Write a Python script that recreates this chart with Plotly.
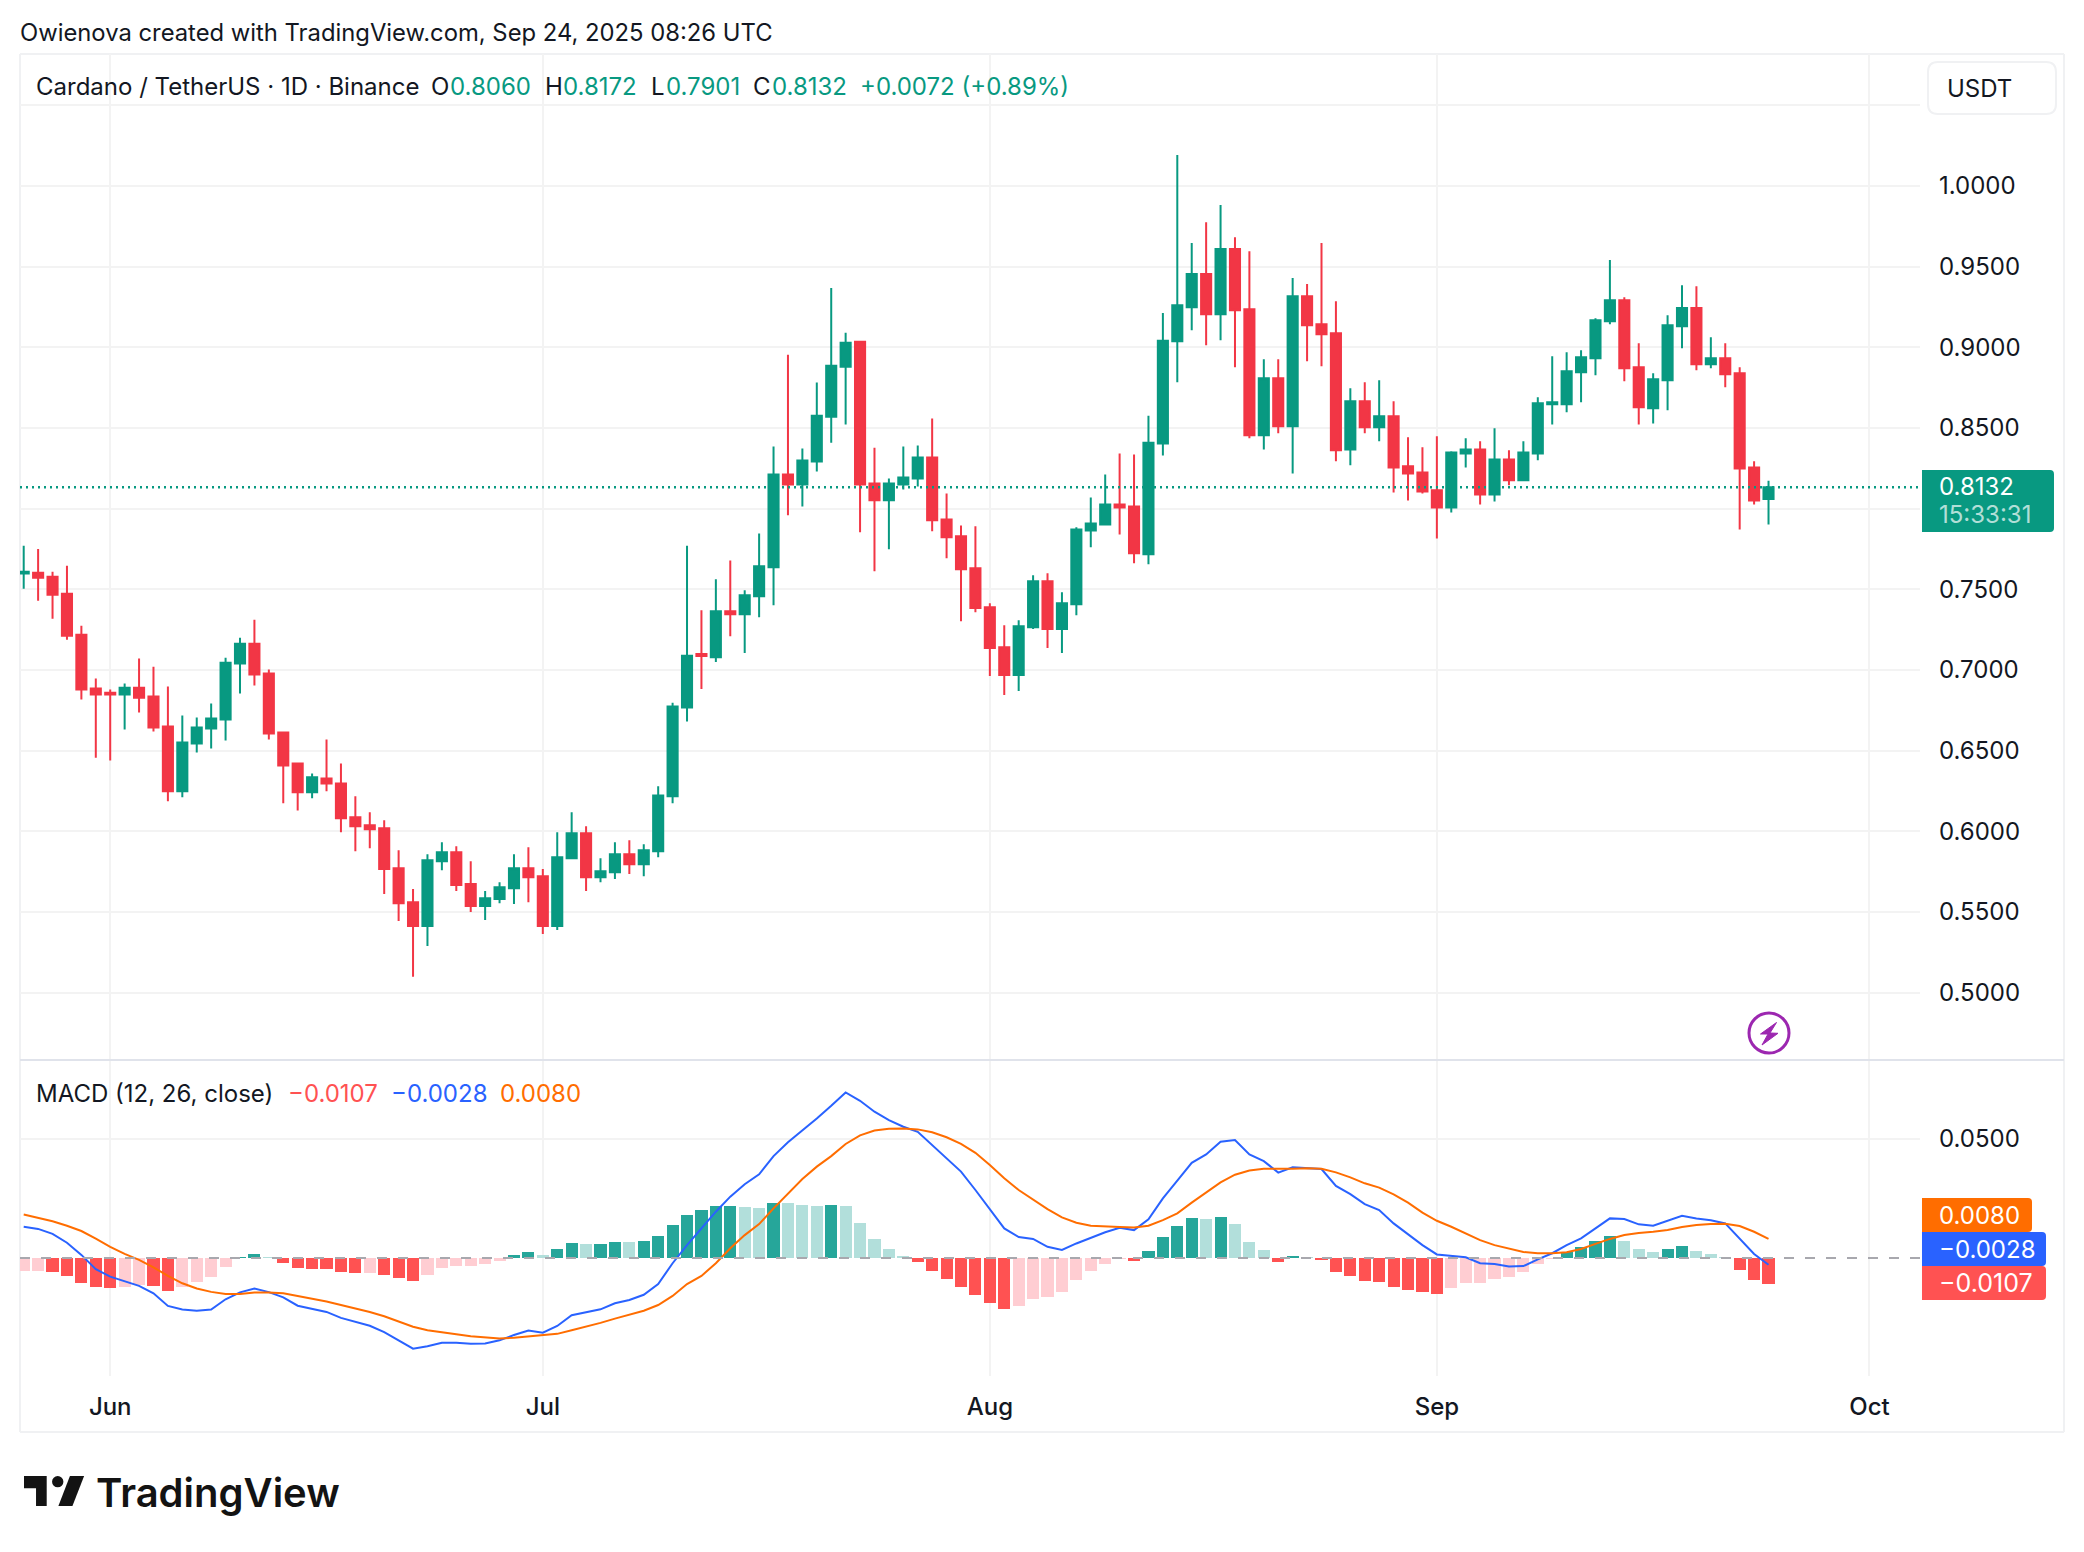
import pandas as pd
import plotly.graph_objects as go

FIRST_DAY = "2025-05-26"
opens = [.7598,.7602,.7577,.7472,.7218,.6884,.6859,.6847,.6890,.6835,.6649,.6247,.6544,.6637,.6692,.7039,.7162,.6977,.6612,.6420,.6241,.6327,.6296,.6086,.6037,.6018,.5771,.5560,.5412,.5814,.5870,.5672,.5536,.5579,.5647,.5771,.5721,.5412,.5833,.5987,.5715,.5746,.5857,.5795,.5876,.6216,.6767,
 .7098,.7079,.7364,.7345,.7457,.7636,.8211,.8150,.8292,.8570,.8879,.9034,.8156,.8051,.8150,.8187,.8317,.7933,.7828,.7630,.7389,.7141,.6968,.7265,.7550,.7253,.7407,.7865,.7902,.8026,.8013,.7717,.8403,
 .9038,.9249,.9454,.9205,.9609,.9236,.8454,.8808,.8510,.9317,.9143,.9087,.8367,.8665,.8504,.8572,.8262,.8224,.8113,.8007,.8342,.8367,.8088,.8305,.8175,.8342,.8647,.8647,.8845,.8932,.9162,.9292,.8876,.8622,.8796,.9131,.9243,.8895,.8932,.8839,.8255,.8060]
highs = [.7769,.7750,.7608,.7645,.7274,.6946,.6878,.6915,.7070,.7020,.6897,.6717,.6705,.6791,.7076,.7200,.7311,.7002,.6612,.6426,.6358,.6569,.6420,.6216,.6117,.6068,.5882,.5641,.5857,.5932,.5907,.5814,.5629,.5684,.5857,.5901,.5765,.5993,.6117,.6030,.5833,.5932,.5944,.5919,.6278,.6797,.7769,
 .7370,.7562,.7679,.7494,.7846,.8385,.8954,.8372,.8781,.9368,.9090,.9034,.8378,.8187,.8385,.8391,.8558,.8094,.7896,.7890,.7413,.7277,.7308,.7587,.7599,.7482,.7884,.8069,.8211,.8341,.8335,.8576,.9213,
 1.0192,.9646,.9776,.9882,.9683,.9596,.8926,.8926,.9429,.9392,.9646,.9286,.8746,.8783,.8796,.8665,.8442,.8380,.8448,.8355,.8436,.8417,.8498,.8361,.8417,.8690,.8945,.8969,.8982,.9180,.9541,.9311,.9025,.8839,.9199,.9385,.9379,.9063,.9025,.8876,.8293,.8172]
lows = [.7503,.7428,.7317,.7187,.6816,.6456,.6438,.6631,.6736,.6618,.6185,.6210,.6488,.6513,.6562,.6853,.6903,.6569,.6173,.6129,.6204,.6247,.5993,.5876,.5894,.5610,.5443,.5097,.5288,.5758,.5629,.5499,.5449,.5554,.5548,.5560,.5362,.5387,.5826,.5629,.5684,.5703,.5734,.5721,.5839,.6173,.6680,
 .6882,.7049,.7209,.7104,.7327,.7401,.7958,.8013,.8230,.8409,.8521,.7853,.7611,.7748,.8119,.8137,.7859,.7692,.7302,.7358,.6962,.6844,.6869,.7253,.7135,.7104,.7339,.7760,.7896,.7840,.7661,.7655,.8329,
 .8783,.9106,.9013,.9044,.8876,.8436,.8367,.8467,.8218,.8914,.8883,.8293,.8268,.8467,.8417,.8100,.8050,.8094,.7815,.7976,.8255,.8026,.8044,.8144,.8175,.8299,.8522,.8597,.8659,.8827,.9143,.8789,.8522,.8528,.8609,.8994,.8858,.8870,.8752,.7871,.8026,.7901]
closes = [.7608,.7571,.7466,.7212,.6878,.6847,.6847,.6890,.6828,.6643,.6247,.6550,.6643,.6699,.7045,.7162,.6971,.6606,.6408,.6241,.6334,.6296,.6080,.6030,.6012,.5765,.5554,.5412,.5820,.5870,.5666,.5536,.5585,.5653,.5771,.5715,.5412,.5839,.5987,.5715,.5752,.5857,.5795,.5882,.6222,.6773,.7088,
 .7086,.7364,.7345,.7463,.7642,.8211,.8150,.8298,.8576,.8886,.9028,.8150,.8051,.8156,.8193,.8317,.7927,.7822,.7624,.7383,.7135,.6968,.7271,.7550,.7253,.7413,.7871,.7908,.8026,.8007,.7723,.8409,.9040,
 .9261,.9454,.9205,.9609,.9230,.8454,.8808,.8510,.9317,.9137,.9081,.8361,.8665,.8504,.8572,.8255,.8218,.8106,.8007,.8348,.8367,.8088,.8305,.8175,.8348,.8653,.8659,.8851,.8938,.9168,.9292,.8870,.8628,.8802,.9137,.9243,.8895,.8932,.8833,.8249,.8050,.8132]
macd_hist = [-.0054,-.0054,-.0059,-.0075,-.0105,-.0122,-.0126,-.0122,-.0113,-.0117,-.0138,-.0122,-.0101,-.0080,-.0038,.0004,.0017,.0004,-.0021,-.0042,-.0046,-.0046,-.0059,-.0063,-.0063,-.0071,-.0084,-.0096,-.0071,-.0042,-.0034,-.0034,-.0025,-.0013,.0013,.0025,.0013,.0038,.0063,.0059,.0059,.0067,.0067,.0071,.0092,.0138,.0180,
 .0201,.0218,.0218,.0214,.0209,.0230,.0230,.0222,.0218,.0222,.0218,.0147,.0080,.0038,.0008,-.0017,-.0054,-.0088,-.0122,-.0155,-.0189,-.0214,-.0201,-.0172,-.0163,-.0142,-.0092,-.0054,-.0025,-.0004,-.0013,.0029,.0088,
 .0134,.0168,.0163,.0172,.0142,.0067,.0034,-.0017,.0008,.0004,-.0008,-.0059,-.0075,-.0096,-.0101,-.0122,-.0134,-.0142,-.0151,-.0126,-.0105,-.0105,-.0088,-.0080,-.0059,-.0025,-.0004,.0025,.0046,.0071,.0092,.0071,.0038,.0025,.0038,.0050,.0029,.0017,.0004,-.0050,-.0092,-.0107]
hist_strong = [0,0,1,1,1,1,1,0,0,1,1,0,0,0,0,1,1,0,1,1,1,1,1,1,0,1,1,1,0,0,0,0,0,0,1,1,0,1,1,0,1,1,0,1,1,1,1,
 1,1,1,0,0,1,0,0,0,1,0,0,0,0,0,1,1,1,1,1,1,1,0,0,0,0,0,0,0,0,1,1,1,
 1,1,0,1,0,0,0,1,1,0,1,1,1,1,1,1,1,1,1,0,0,0,0,0,0,0,0,1,1,1,1,0,0,0,1,1,0,0,0,1,1,1]
macd_line = [.0131,.0122,.0101,.0064,.0013,-.0047,-.0078,-.0099,-.0117,-.0148,-.0201,-.0216,-.0221,-.0216,-.0173,-.0144,-.0128,-.0143,-.0165,-.0200,-.0214,-.0226,-.0251,-.0269,-.0284,-.0311,-.0346,-.0380,-.0370,-.0355,-.0355,-.0359,-.0358,-.0345,-.0323,-.0304,-.0313,-.0285,-.0240,-.0229,-.0215,-.0190,-.0176,-.0154,-.0109,-.0022,.0054,
 .0124,.0194,.0257,.0309,.0351,.0427,.0485,.0534,.0585,.0638,.0694,.0659,.0613,.0578,.0550,.0529,.0473,.0418,.0362,.0285,.0204,.0124,.0088,.0080,.0047,.0034,.0061,.0085,.0108,.0127,.0117,.0162,.0250,
 .0324,.0399,.0434,.0487,.0494,.0434,.0406,.0358,.0380,.0378,.0373,.0302,.0268,.0226,.0201,.0145,.0101,.0054,.0015,.0008,.0003,-.0022,-.0025,-.0036,-.0034,-.0006,.0020,.0054,.0082,.0124,.0166,.0163,.0141,.0135,.0156,.0177,.0166,.0158,.0145,.0082,.0017,-.0028]
signal_line = [.0182,.0169,.0154,.0135,.0113,.0081,.0047,.0017,-.0008,-.0039,-.0075,-.0106,-.0128,-.0142,-.0151,-.0151,-.0145,-.0145,-.0148,-.0159,-.0170,-.0182,-.0197,-.0211,-.0226,-.0244,-.0267,-.0288,-.0303,-.0313,-.0320,-.0328,-.0334,-.0337,-.0334,-.0328,-.0325,-.0318,-.0303,-.0288,-.0272,-.0254,-.0239,-.0221,-.0197,-.0159,-.0109,
 -.0075,-.0022,.0041,.0096,.0142,.0208,.0271,.0331,.0383,.0427,.0478,.0514,.0534,.0542,.0543,.0539,.0527,.0506,.0478,.0441,.0390,.0334,.0285,.0246,.0205,.0170,.0148,.0135,.0131,.0130,.0128,.0135,.0159,
 .0187,.0232,.0274,.0317,.0349,.0367,.0374,.0373,.0374,.0376,.0374,.0359,.0338,.0313,.0295,.0267,.0232,.0190,.0156,.0131,.0103,.0075,.0054,.0038,.0025,.0020,.0020,.0024,.0038,.0059,.0080,.0096,.0105,.0110,.0117,.0130,.0138,.0142,.0144,.0134,.0110,.0080]
price_ticks = [0.50,0.55,0.60,0.65,0.70,0.75,0.80,0.85,0.90,0.95,1.00,1.05]
price_tick_labels = ["0.5000","0.5500","0.6000","0.6500","0.7000","0.7500","","0.8500","0.9000","0.9500","1.0000",""]
month_ticks = ["2025-06-01","2025-07-01","2025-08-01","2025-09-01","2025-10-01"]
month_labels = ["Jun","Jul","Aug","Sep","Oct"]

W, H = 2084, 1552
FONT = "Inter"
INK = "#131722"
GREEN = "#089981"
RED = "#F23645"
GRID = "#F3F3F3"
BORDER = "#F0F1F3"
PL, PR = 20, 1920
DAY_PX = 14.42
FIRST_PX = 23.7

def fx(x): return x / W
def fy(y): return 1 - y / H

days = pd.date_range(FIRST_DAY, periods=len(closes), freq="D")
def px2date(x):
    return (pd.Timestamp(FIRST_DAY) + pd.Timedelta(days=(x - FIRST_PX) / DAY_PX)).isoformat()
xrange = [px2date(PL), px2date(PR)]

PRICE_TOP, PRICE_BOT = 54, 1060
MACD_TOP, MACD_BOT = 1061, 1376
PRICE_PER_PX = 0.05 / 80.65
price_range = [1.0 - (PRICE_BOT - 186) * PRICE_PER_PX, 1.0 + (186 - PRICE_TOP) * PRICE_PER_PX]
MACD_PER_PX = 0.05 / 119.3
macd_range = [-(MACD_BOT - 1258) * MACD_PER_PX, (1258 - MACD_TOP) * MACD_PER_PX]

fig = go.Figure()
fig.add_trace(go.Candlestick(
    x=days, open=opens, high=highs, low=lows, close=closes, xaxis="x", yaxis="y",
    increasing=dict(line=dict(color=GREEN, width=2), fillcolor=GREEN),
    decreasing=dict(line=dict(color=RED, width=2), fillcolor=RED),
    whiskerwidth=0, showlegend=False))

def bar_color(v, s):
    if v >= 0:
        return "#26A69A" if s else "#B2DFDB"
    return "#FF5252" if s else "#FFCDD2"

fig.add_trace(go.Bar(x=days, y=macd_hist, xaxis="x2", yaxis="y2", width=0.84 * 86400000,
                     marker=dict(color=[bar_color(v, s) for v, s in zip(macd_hist, hist_strong)], line_width=0),
                     showlegend=False))
fig.add_trace(go.Scatter(x=days, y=macd_line, mode="lines", xaxis="x2", yaxis="y2",
                         line=dict(color="#2962FF", width=2), showlegend=False))
fig.add_trace(go.Scatter(x=days, y=signal_line, mode="lines", xaxis="x2", yaxis="y2",
                         line=dict(color="#FF6D00", width=2), showlegend=False))

shapes = []
# frame
for (x0, y0, x1, y1) in [(20, 54, 2064, 54), (20, 1432, 2064, 1432), (20, 54, 20, 1432), (2064, 54, 2064, 1432)]:
    shapes.append(dict(type="line", xref="paper", yref="paper", x0=fx(x0), y0=fy(y0), x1=fx(x1), y1=fy(y1),
                       line=dict(color=BORDER, width=2), layer="below"))
shapes.append(dict(type="line", xref="paper", yref="paper", x0=fx(20), y0=fy(1060), x1=fx(2064), y1=fy(1060),
                   line=dict(color="#E0E3EB", width=2)))
# last price dotted line
shapes.append(dict(type="line", xref="x", yref="y", x0=xrange[0], x1=xrange[1], y0=closes[-1], y1=closes[-1],
                   line=dict(color=GREEN, width=2.5, dash="2px,4px"), layer="above"))
# zero line of the MACD pane
shapes.append(dict(type="line", xref="x2", yref="y2", x0=xrange[0], x1=xrange[1], y0=0, y1=0,
                   line=dict(color="#A8A8AE", width=2, dash="10px,11px"), layer="above"))

def rounded(x0, y0, x1, y1, r=4, left=False):
    p = lambda x, y: f"{fx(x):.5f},{fy(y):.5f}"
    if left:
        return (f"M{p(x0+r,y0)} L{p(x1-r,y0)} Q{p(x1,y0)} {p(x1,y0+r)} L{p(x1,y1-r)} Q{p(x1,y1)} {p(x1-r,y1)} "
                f"L{p(x0+r,y1)} Q{p(x0,y1)} {p(x0,y1-r)} L{p(x0,y0+r)} Q{p(x0,y0)} {p(x0+r,y0)} Z")
    return (f"M{p(x0,y0)} L{p(x1-r,y0)} Q{p(x1,y0)} {p(x1,y0+r)} L{p(x1,y1-r)} Q{p(x1,y1)} {p(x1-r,y1)} L{p(x0,y1)} Z")

def tag(x0, y0, x1, y1, color):
    shapes.append(dict(type="path", xref="paper", yref="paper", path=rounded(x0, y0, x1, y1),
                       fillcolor=color, line_width=0, layer="above"))

tag(1922, 470, 2054, 532, GREEN)
tag(1922, 1198, 2032, 1232, "#FF6D00")
tag(1922, 1232, 2046, 1266, "#2962FF")
tag(1922, 1266, 2046, 1300, "#FF5252")

# USDT box
shapes.append(dict(type="path", xref="paper", yref="paper", path=rounded(1928, 62, 2056, 114, r=10, left=True),
                   fillcolor="white", line=dict(color="#F0F1F3", width=2)))

# lightning badge
shapes.append(dict(type="circle", xref="paper", yref="paper", x0=fx(1749), x1=fx(1789), y0=fy(1013), y1=fy(1053),
                   fillcolor="white", line=dict(color="#9C27B0", width=3)))
bolt = [(1776.5, 1022.5), (1760.5, 1034), (1768, 1034), (1762, 1045), (1778, 1033.3), (1770, 1033)]
shapes.append(dict(type="path", xref="paper", yref="paper",
                   path="M" + " L".join(f"{fx(a):.5f},{fy(b):.5f}" for a, b in bolt) + " Z",
                   fillcolor="#9C27B0", line=dict(color="#9C27B0", width=1)))

# logo
LX, LY, LS = 24, 1476, 1.67
def lp(pts):
    return "M" + " L".join(f"{fx(LX + a * LS):.5f},{fy(LY + b * LS):.5f}" for a, b in pts) + " Z"
shapes.append(dict(type="path", xref="paper", yref="paper", fillcolor="#131313", line_width=0,
                   path=lp([(0, 0), (13.6, 0), (13.6, 18), (7.2, 18), (7.2, 7.4), (0, 7.4)])))
shapes.append(dict(type="path", xref="paper", yref="paper", fillcolor="#131313", line_width=0,
                   path=lp([(27.5, 0), (36, 0), (29, 18), (20.6, 18)])))
shapes.append(dict(type="circle", xref="paper", yref="paper", fillcolor="#131313", line_width=0,
                   x0=fx(LX + 16.8 * LS), x1=fx(LX + 23.6 * LS), y0=fy(LY + 0 * LS), y1=fy(LY + 6.8 * LS)))

anns = []
def txt(x, y, s, color=INK, size=24, weight=400, anchor="left"):
    anns.append(dict(xref="paper", yref="paper", x=fx(x), y=fy(y), text=s, showarrow=False, xanchor=anchor,
                     yanchor="middle", borderpad=0, font=dict(family=FONT, size=size, color=color, weight=weight)))

txt(19, 32, "Owienova created with TradingView.com, Sep 24, 2025 08:26 UTC", size=23.8)
txt(35, 86, "Cardano / TetherUS · 1D · Binance", size=24)
for x, s, c in [(430, "O", INK), (449, "0.8060", GREEN), (544, "H", INK), (562, "0.8172", GREEN),
                (650, "L", INK), (665, "0.7901", GREEN), (752, "C", INK), (771, "0.8132", GREEN),
                (859, "+0.0072 (+0.89%)", GREEN)]:
    txt(x, 86, s, c, size=24)
txt(35, 1093, "MACD (12, 26, close)", size=24)
txt(287, 1093, "−0.0107", "#FF5252", size=24)
txt(390, 1093, "−0.0028", "#2962FF", size=24)
txt(499, 1093, "0.0080", "#FF6D00", size=24)
txt(1938, 486, "0.8132", "white", size=24)
txt(1938, 515, "15:33:31", "rgba(255,255,255,0.7)", size=24)
txt(1938, 1215, "0.0080", "white", size=24)
txt(1938, 1249, "−0.0028", "white", size=24)
txt(1938, 1283, "−0.0107", "white", size=25)
txt(1946, 88, "USDT", size=24)
txt(95, 1492, "TradingView", "#131313", size=40, weight=600)

fig.update_layout(
    width=W, height=H, margin=dict(l=0, r=0, t=0, b=0), paper_bgcolor="white", plot_bgcolor="white",
    font=dict(family=FONT, color=INK, size=24), bargap=0, boxgroupgap=0, showlegend=False, shapes=shapes, annotations=anns,
    hovermode=False,
    xaxis=dict(domain=[fx(PL), fx(PR)], anchor="y", range=xrange, type="date", rangeslider=dict(visible=False),
               tickvals=month_ticks, ticktext=[""] * 5, showgrid=True, gridcolor=GRID, gridwidth=2, ticks="", showline=False, zeroline=False),
    yaxis=dict(domain=[fy(PRICE_BOT), fy(PRICE_TOP)], anchor="x", side="right", range=price_range,
               tickvals=price_ticks, ticktext=price_tick_labels,
               showgrid=True, gridcolor=GRID, gridwidth=2, ticks="", showline=False, zeroline=False,
               tickfont=dict(family=FONT, size=24, color=INK), ticklabelstandoff=18),
    xaxis2=dict(domain=[fx(PL), fx(PR)], anchor="y2", range=xrange, type="date",
                tickvals=month_ticks, ticktext=month_labels, showgrid=True, gridcolor=GRID, gridwidth=2,
                ticks="", showline=False, zeroline=False, ticklabelstandoff=14,
                tickfont=dict(family=FONT, size=24, color=INK, weight=500)),
    yaxis2=dict(domain=[fy(MACD_BOT), fy(MACD_TOP)], anchor="x2", side="right", range=macd_range,
                tickvals=[0.05], ticktext=["0.0500"], showgrid=True, gridcolor=GRID, gridwidth=2,
                ticks="", showline=False, zeroline=False, tickfont=dict(family=FONT, size=24, color=INK),
                ticklabelstandoff=18),
)
fig.write_html("out.html", config=dict(displayModeBar=False),
               post_script="document.body.style.margin='0';")
